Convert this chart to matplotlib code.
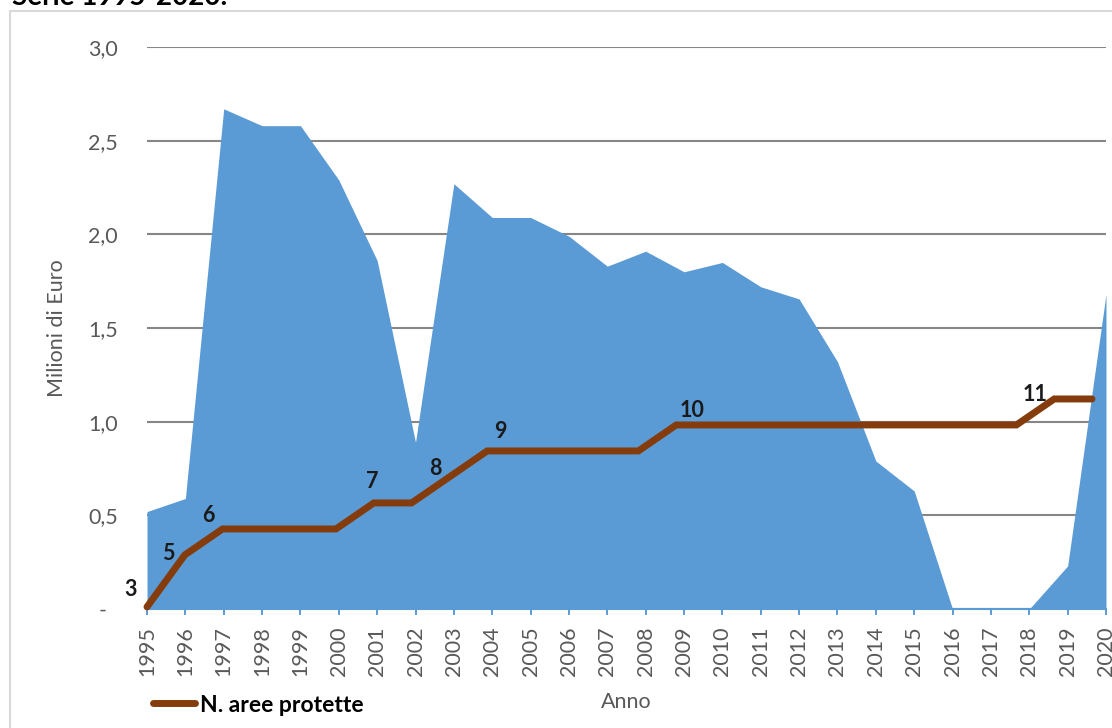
import matplotlib
matplotlib.use("Agg")
import matplotlib.pyplot as plt
from matplotlib.patches import Rectangle

plt.rcParams['font.family'] = ['Lato', 'DejaVu Sans']

# =========================
# Data
# =========================
anni = list(range(1995, 2021))
milioni_euro = [0.52, 0.59, 2.67, 2.58, 2.58, 2.29, 1.86, 0.89, 2.27, 2.09,
                2.09, 1.99, 1.83, 1.91, 1.80, 1.85, 1.72, 1.655, 1.32, 0.79,
                0.63, 0.0, 0.0, 0.0, 0.23, 1.68]
n_aree = [3, 5, 6, 6, 6, 6, 7, 7, 8, 9, 9, 9, 9, 9, 10,
          10, 10, 10, 10, 10, 10, 10, 10, 10, 11, 11]
y_ticks = [0, 0.5, 1.0, 1.5, 2.0, 2.5, 3.0]
y_labels = ['-  ', '0,5', '1,0', '1,5', '2,0', '2,5', '3,0']

# label offsets (pixels) for each point where the count changes
label_offsets = [(-16, 17), (-17, 1), (-14, 13), (-2, 21), (-14, 8),
                 (13, 19), (16, 14), (-19, 4)]

BLUE = '#5B9BD5'
BROWN = '#843C0C'
GREY = '#595959'

# =========================
# Figure
# =========================
fig = plt.figure(figsize=(11.12, 7.28), dpi=100)
rect = [147 / 1112, 1 - 609 / 728, (1106 - 147) / 1112, (609 - 47) / 728]
ax = fig.add_axes(rect)

ax.fill_between(anni, milioni_euro, color=BLUE, lw=0, zorder=2)
ax.set_xlim(1995, 2020)
ax.set_ylim(0, 3)

for s in ['top', 'right', 'left']:
    ax.spines[s].set_visible(False)
ax.spines['bottom'].set_color(BLUE)
ax.spines['bottom'].set_linewidth(1.5)

ax.set_xticks(anni)
ax.set_xticklabels([str(a) for a in anni], rotation=90)
ax.tick_params(axis='x', direction='out', length=4.3, width=1.4, color=BLUE,
               labelcolor=GREY, labelsize=15.5, pad=8)
ax.set_yticks(y_ticks)
ax.set_yticklabels(y_labels)
ax.tick_params(axis='y', length=0, labelcolor=GREY, labelsize=15.5, pad=21)

ax.yaxis.grid(True, color='#868686', lw=1.5)
ax.set_axisbelow(True)

ax.set_ylabel("Milioni di Euro", color=GREY, fontsize=15.5)
ax.yaxis.set_label_coords(-0.083, 0.5)
ax.set_xlabel("Anno", color=GREY, fontsize=15.5)
ax.xaxis.set_label_coords(0.5, -0.147)

# secondary (hidden) axes for the protected areas line
ax2 = fig.add_axes(rect)
ax2.set_xlim(1995, 2020.37)
ax2.set_ylim(2.92, 24.54)
ax2.axis('off')
ax2.patch.set_visible(False)
line, = ax2.plot(anni, n_aree, color=BROWN, lw=5, solid_capstyle='round',
                 solid_joinstyle='miter', clip_on=False,
                 label="N. aree protette")

k = 0
prev = None
for a, v in zip(anni, n_aree):
    if v != prev:
        dx, dy = label_offsets[k]
        ax2.annotate(str(v), (a, v), xytext=(dx, dy), textcoords='offset pixels',
                     ha='center', va='center', fontsize=15.5, fontweight='bold',
                     color='#1a1a1a')
        k += 1
    prev = v

fig.legend(handles=[line], loc='center left',
           bbox_to_anchor=(153 / 1112, 1 - 705 / 728), frameon=False,
           borderpad=0, borderaxespad=0, handlelength=1.85, handletextpad=0.2,
           prop={'weight': 'bold', 'size': 16.5})

# chart frame and cut-off title
fig.patches.append(Rectangle((10 / 1112, -0.1), 1.2, 1.1 - 11 / 728,
                             transform=fig.transFigure, fill=False,
                             edgecolor='#D9D9D9', lw=1.5))
fig.text(12 / 1112, 1 - 5 / 728, "Serie 1995-2020.", fontsize=20,
         fontweight='bold', va='baseline', color='black')

plt.savefig("out.png", dpi=100)
